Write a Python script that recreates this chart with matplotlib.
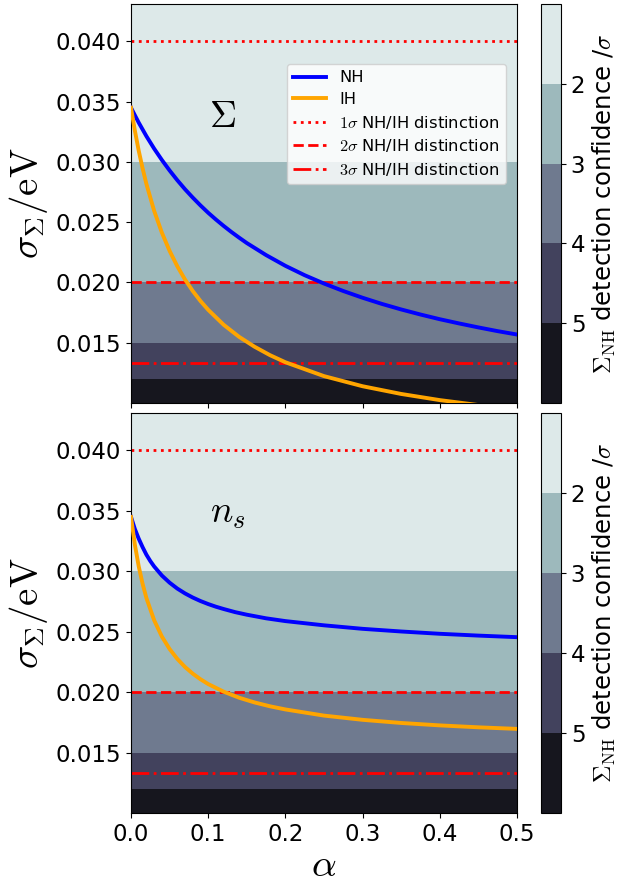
import numpy as np
import matplotlib
matplotlib.use("Agg")
import matplotlib.pyplot as plt

plt.rcParams["mathtext.fontset"] = "cm"

# values (alpha, sigma_Sigma in eV)
alpha_nh_sum = [0, 0.005, 0.01, 0.02, 0.03, 0.04, 0.05, 0.06, 0.07, 0.08, 0.09, 0.1, 0.11, 0.12, 0.13,
                0.14, 0.15, 0.175, 0.2, 0.225, 0.25, 0.275, 0.3, 0.325, 0.35, 0.375, 0.4, 0.425, 0.45, 0.475, 0.5]
sigma_nh_sum = [0.0345, 0.03387, 0.03326, 0.03213, 0.03110, 0.03016, 0.02929, 0.02848, 0.02773, 0.02704,
                0.02639, 0.02578, 0.02522, 0.02469, 0.02419, 0.02372, 0.02327, 0.02227, 0.02138, 0.02060,
                0.01991, 0.01929, 0.01873, 0.01822, 0.01776, 0.01734, 0.01695, 0.01660, 0.01627, 0.01596,
                0.01568]
alpha_ih_sum = [0, 0.005, 0.01, 0.015, 0.02, 0.03, 0.04, 0.05, 0.06, 0.07, 0.08, 0.09, 0.1, 0.12, 0.14, 0.16,
                0.18, 0.2, 0.25, 0.3, 0.35, 0.4, 0.45, 0.5]
sigma_ih_sum = [0.0345, 0.03260, 0.03093, 0.02947, 0.02816, 0.02594, 0.02413, 0.02262, 0.02134, 0.02024,
                0.01929, 0.01846, 0.01773, 0.01649, 0.01549, 0.01467, 0.01397, 0.01338, 0.01223, 0.01139,
                0.01075, 0.01024, 0.00983, 0.00950]

alpha_nh_ns = [0, 0.005, 0.01, 0.015, 0.02, 0.025, 0.03, 0.04, 0.05, 0.06, 0.07, 0.08, 0.09, 0.1, 0.11, 0.12,
               0.135, 0.15, 0.175, 0.2, 0.25, 0.3, 0.35, 0.4, 0.45, 0.5]
sigma_nh_ns = [0.0345, 0.03350, 0.03270, 0.03200, 0.03137, 0.03085, 0.03040, 0.02965, 0.02906, 0.02857,
               0.02817, 0.02783, 0.02754, 0.02729, 0.02707, 0.02688, 0.02662, 0.02641, 0.02611, 0.02588,
               0.02553, 0.02524, 0.02502, 0.02483, 0.02468, 0.02455]
alpha_ih_ns = [0, 0.005, 0.01, 0.015, 0.02, 0.03, 0.04, 0.05, 0.06, 0.07, 0.08, 0.09, 0.1, 0.12, 0.14, 0.16,
               0.18, 0.2, 0.25, 0.3, 0.35, 0.4, 0.45, 0.5]
sigma_ih_ns = [0.0345, 0.03221, 0.03041, 0.02897, 0.02778, 0.02595, 0.02460, 0.02357, 0.02275, 0.02208,
               0.02153, 0.02107, 0.02067, 0.02004, 0.01954, 0.01915, 0.01883, 0.01857, 0.01806, 0.01771,
               0.01745, 0.01725, 0.01709, 0.01696]

sum_nh = 0.06          # eV, detection confidence = sum_nh / sigma
nh_ih_gap = 0.04       # eV, NH/IH distinction = gap / sigma
conf_levels = [1, 2, 3, 4, 5, 6]
conf_ticks = [2, 3, 4, 5]
panel_labels = [r"$\Sigma$", r"$n_s$"]
label_pos = [(0.118, 0.0337), (0.125, 0.0348)]

ylo, yhi = 0.0100, 0.0431

fig = plt.figure(figsize=(6.18, 8.86), dpi=100)
W, H = 618, 886
def box(l, t, r, b):
    return [l / W, 1 - b / H, (r - l) / W, (b - t) / H]

ax_top = fig.add_axes(box(131, 4, 517, 403))
ax_bot = fig.add_axes(box(131, 413, 517, 813))
cax_top = fig.add_axes(box(541, 4, 561, 403))
cax_bot = fig.add_axes(box(541, 413, 561, 813))

panels = [
    (ax_top, cax_top, alpha_nh_sum, sigma_nh_sum, alpha_ih_sum, sigma_ih_sum, panel_labels[0], label_pos[0]),
    (ax_bot, cax_bot, alpha_nh_ns, sigma_nh_ns, alpha_ih_ns, sigma_ih_ns, panel_labels[1], label_pos[1]),
]

sig_grid = np.linspace(0.009, 0.045, 600)
a_grid = np.array([0.0, 0.5])
for ax, cax, a_nh, s_nh, a_ih, s_ih, lab, pos in panels:
    A, S = np.meshgrid(a_grid, sig_grid)
    Z = np.clip(sum_nh / S, 1.001, 5.999)
    cf = ax.contourf(A, S, Z, levels=conf_levels, cmap="bone_r", zorder=0)
    ax.plot(a_nh, s_nh, color="blue", lw=2.8, label="NH", zorder=3)
    ax.plot(a_ih, s_ih, color="orange", lw=2.8, label="IH", zorder=3)
    ax.axhline(nh_ih_gap / 1, color="red", ls=":", lw=2, label=r"$1\sigma$ NH/IH distinction", zorder=2)
    ax.axhline(nh_ih_gap / 2, color="red", ls="--", lw=2, label=r"$2\sigma$ NH/IH distinction", zorder=2)
    ax.axhline(nh_ih_gap / 3, color="red", ls="-.", lw=2, label=r"$3\sigma$ NH/IH distinction", zorder=2)
    ax.set_xlim(0, 0.5)
    ax.set_ylim(ylo, yhi)
    ax.set_yticks([0.015, 0.020, 0.025, 0.030, 0.035, 0.040])
    ax.set_yticklabels(["0.015", "0.020", "0.025", "0.030", "0.035", "0.040"])
    ax.set_xticks([0, 0.1, 0.2, 0.3, 0.4, 0.5])
    ax.tick_params(labelsize=16.5)
    ax.set_ylabel(r"$\sigma_\Sigma/\mathrm{eV}$", fontsize=28)
    ax.text(pos[0], pos[1], lab, fontsize=27, ha="center", va="center")

    cb = fig.colorbar(cf, cax=cax, ticks=conf_ticks)
    cb.ax.invert_yaxis()
    cb.ax.tick_params(labelsize=16.5)
    cb.set_label(r"$\Sigma_{\rm NH}$ detection confidence /$\sigma$", fontsize=17.5)

ax_top.tick_params(labelbottom=False)
ax_bot.set_xlabel(r"$\alpha$", fontsize=28, labelpad=0)
ax_top.legend(loc="upper right", bbox_to_anchor=(0.972, 0.85), borderaxespad=0, fontsize=11.8,
              labelspacing=0.4)

fig.savefig("out.png", dpi=100)
